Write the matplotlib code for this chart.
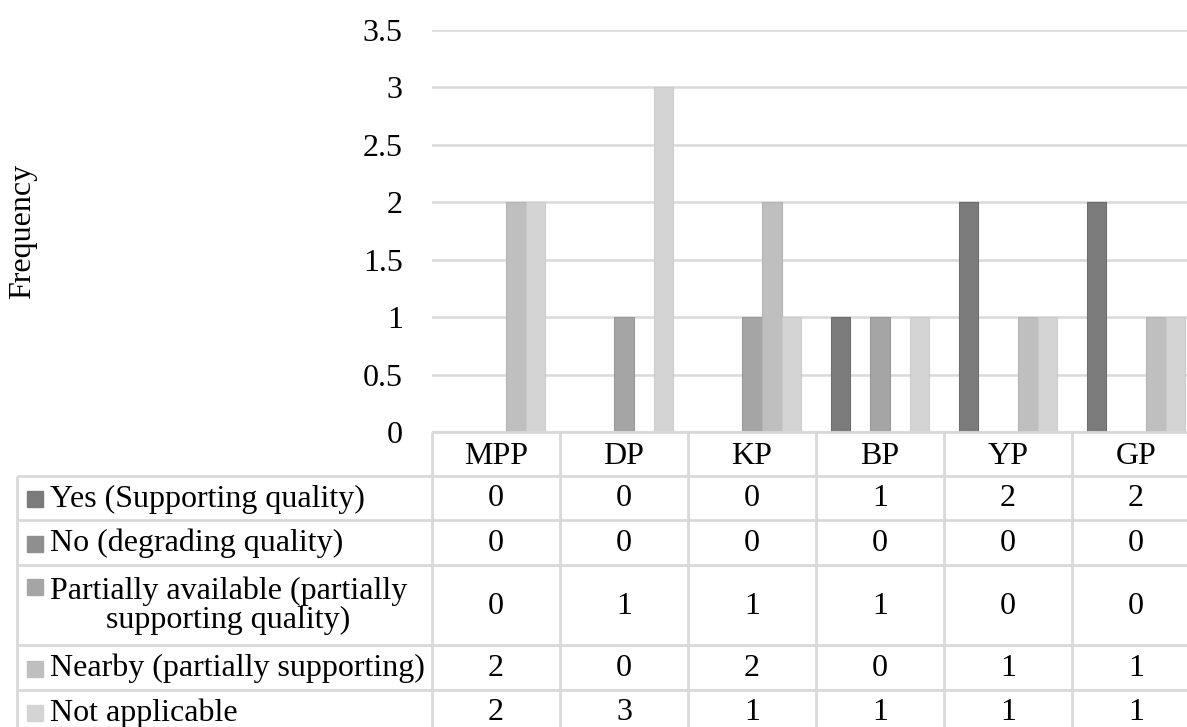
import matplotlib
matplotlib.use("Agg")
import matplotlib.pyplot as plt
import numpy as np

plt.rcParams['font.family'] = ['Liberation Serif', 'DejaVu Serif']

categories = ['MPP', 'DP', 'KP', 'BP', 'YP', 'GP']
series = ['Yes (Supporting quality)',
          'No (degrading quality)',
          'Partially available (partially\nsupporting quality)',
          'Nearby (partially supporting)',
          'Not applicable']
yes_vals = [0, 0, 0, 1, 2, 2]
no_vals = [0, 0, 0, 0, 0, 0]
partial_vals = [0, 1, 1, 1, 0, 0]
nearby_vals = [2, 0, 2, 0, 1, 1]
na_vals = [2, 3, 1, 1, 1, 1]
values = [yes_vals, no_vals, partial_vals, nearby_vals, na_vals]
colors = ['#7b7b7b', '#8f8f8f', '#a5a5a5', '#bfbfbf', '#d4d4d4']
edges = ['#6e6e6e', '#838383', '#9a9a9a', '#b5b5b5', '#cbcbcb']
yticks = [0, 0.5, 1, 1.5, 2, 2.5, 3, 3.5]

W, H = 1187, 727
fs = 23
grid_c = '#d9d9d9'

fig = plt.figure(figsize=(W / 100, H / 100), dpi=100)

# plot area in pixels
px0, pcol, ptop, pbot = 432, 128, 30, 432
ncat = len(categories)
ax = fig.add_axes([px0 / W, 1 - pbot / H, ncat * pcol / W, (pbot - ptop) / H])

x = np.arange(ncat)
bw = 1 / 6.5
for i, vals in enumerate(values):
    ax.bar(x + (i - 2) * bw, vals, width=bw, color=colors[i],
           edgecolor=edges[i], linewidth=0.8, zorder=3)

ax.set_xlim(-0.5, ncat - 0.5)
ax.set_ylim(0, 3.5)
ax.set_yticks(yticks)
ax.set_yticklabels(['0' if t == 0 else ('%g' % t) for t in yticks], fontsize=fs)
ax.tick_params(axis='y', length=0, pad=21)
ax.set_xticks([])
ax.yaxis.grid(True, color=grid_c, linewidth=1.8, zorder=0)
for s in ax.spines.values():
    s.set_visible(False)

fig.text(23 / W, 1 - 231 / H, 'Frequency', rotation=90, fontsize=fs,
         ha='center', va='center')

# data table drawn in pixel coordinates
tab = fig.add_axes([0, 0, 1, 1])
tab.set_xlim(0, W)
tab.set_ylim(H, 0)
tab.axis('off')

lx = 17
row_edges = [432, 476, 520, 565, 645, 690, 734]
right = px0 + ncat * pcol
lc = dict(color=grid_c, linewidth=2, solid_capstyle='butt')

tab.plot([px0, right], [row_edges[0]] * 2, **lc)
for y in row_edges[1:]:
    tab.plot([lx, right], [y, y], **lc)
tab.plot([lx, lx], [row_edges[1], H], **lc)
for j in range(ncat + 1):
    xx = px0 + j * pcol
    tab.plot([xx, xx], [row_edges[0], H], **lc)

for j, c in enumerate(categories):
    tab.text(px0 + (j + 0.5) * pcol, (row_edges[0] + row_edges[1]) / 2 + 2, c,
             fontsize=fs, ha='center', va='center')

for i, name in enumerate(series):
    y0, y1 = row_edges[i + 1], row_edges[i + 2]
    yc = (y0 + y1) / 2 + 1
    key_y = yc if '\n' not in name else y0 + 22
    tab.add_patch(plt.Rectangle((27, key_y - 8), 16, 16, color=colors[i]))
    tab.text(50, yc, name, fontsize=fs, ha='left', va='center',
             multialignment='center', linespacing=1.0)
    for j in range(ncat):
        tab.text(px0 + (j + 0.5) * pcol, yc, str(values[i][j]),
                 fontsize=fs, ha='center', va='center')

fig.savefig('out.png', dpi=100)
